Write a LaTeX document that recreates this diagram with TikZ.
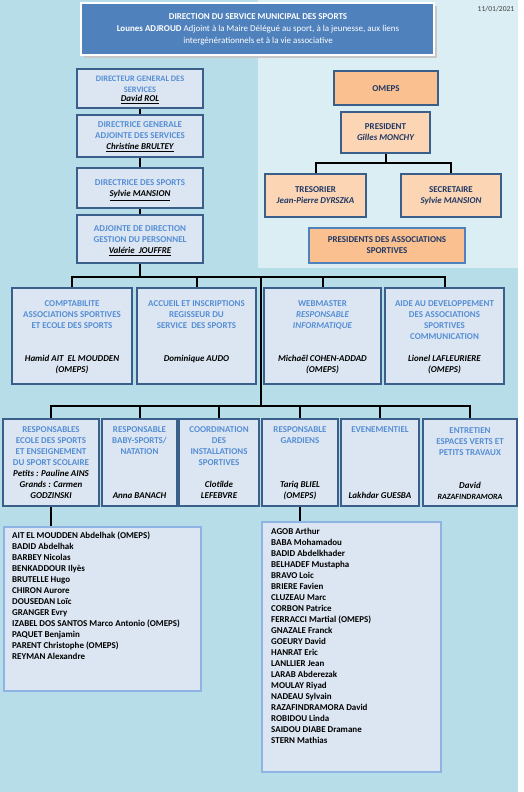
\documentclass[tikz,border=0pt]{standalone}
\usepackage{fontspec}
\setmainfont{Carlito}
\definecolor{bgblue}{HTML}{B7DDE8}
\definecolor{bglight}{HTML}{DBEEF4}
\definecolor{hdrblue}{HTML}{4F81BD}
\definecolor{boxfill}{HTML}{DCE6F2}
\definecolor{boxline}{HTML}{3A5F8B}
\definecolor{listline}{HTML}{8EB4E3}
\definecolor{titleblue}{HTML}{558ED5}
\definecolor{orange1}{HTML}{FAC090}
\definecolor{orange2}{HTML}{FCD5B5}
\definecolor{navy}{HTML}{1F3864}
\definecolor{dategray}{HTML}{404040}
\newcommand\lns[5]{\foreach \t [count=\i] in {#5}{\node[#2] (#1-\i) at (#3,{#4+(\i-1)*11}) {\t};}}
\tikzset{
  box/.style={draw=boxline, line width=1.8bp, fill=boxfill, inner sep=0pt},
  obox/.style={draw=boxline, line width=1.8bp, fill=orange1, inner sep=0pt},
  pbox/.style={draw=boxline, line width=1.8bp, fill=orange2, inner sep=0pt},
  pdabox/.style={draw=hdrblue, line width=2.2bp, fill=orange1, inner sep=0pt},
  lbox/.style={draw=listline, line width=1.3bp, fill=boxfill, inner sep=0pt},
  link/.style={line width=2bp, black},
  txt/.style={inner sep=0pt, text height=5.8bp, text depth=0pt, font=\fontsize{9}{11}\selectfont\bfseries},
  ttl/.style={txt, text=titleblue},
  ttls/.style={ttl, font=\fontsize{8.4}{11}\selectfont\bfseries},
  nm/.style={txt, font=\fontsize{9}{11}\selectfont\bfseries\itshape},
  nms/.style={txt, font=\fontsize{8}{11}\selectfont\bfseries\itshape},
  onm/.style={txt, text=navy},
  onmi/.style={nm, text=navy},
  lst/.style={txt, anchor=west},
  htxt/.style={txt, text=white},
}
\begin{document}
\begin{tikzpicture}[x=1bp, y=-1bp]
\useasboundingbox (0,0) rectangle (524,792);
\fill[bgblue] (0,0) rectangle (518,792);
\fill[bglight] (258,0) rectangle (518,268);

% header
\fill[black!22] (84,6) rectangle (437,58);
\node[draw=white, line width=2bp, fill=hdrblue, minimum width=353bp, minimum height=52bp, inner sep=0pt] (hdr) at (257.5,29) {};
\node[htxt] (h1) at (258,17) {DIRECTION DU SERVICE MUNICIPAL DES SPORTS};
\node[htxt] (h2) at (258,29) {Lounes ADJROUD \mdseries Adjoint à la Maire Délégué au sport, à la jeunesse, aux liens};
\node[htxt, font=\fontsize{9}{11}\selectfont] (h3) at (258,41) {intergénérationnels et à la vie associative};
\node[inner sep=0pt, text=dategray, font=\fontsize{7.6}{9}\selectfont] (date) at (496,9) {11/01/2021};

% left column
\node[box, minimum width=126bp, minimum height=39bp] (dg) at (140,88.5) {};
\node[box, minimum width=126bp, minimum height=42bp] (dga) at (140,136) {};
\node[box, minimum width=126bp, minimum height=40bp] (ds) at (140,188) {};
\node[box, minimum width=126bp, minimum height=48bp] (adj) at (140,239) {};
\lns{tdg}{ttls}{140}{79}{DIRECTEUR GENERAL DES,SERVICES}
\node[nm] (ndg) at (140,99) {\underline{David ROL}};
\lns{tdga}{ttl}{140}{125}{DIRECTRICE GENERALE,ADJOINTE DES SERVICES}
\node[nm] (ndga) at (140,147) {\underline{Christine BRULTEY}};
\node[ttl] (tds) at (140,183) {DIRECTRICE DES SPORTS};
\node[nm] (nds) at (140,194) {\underline{Sylvie MANSION}};
\lns{tadj}{ttl}{140}{229}{ADJOINTE DE DIRECTION,GESTION DU PERSONNEL}
\node[nm] (nadj) at (140,251) {\underline{Valérie~ JOUFFRE}};

% OMEPS
\node[obox, minimum width=104bp, minimum height=34bp] (omeps) at (386,88) {};
\node[onm] (tomeps) at (386,89) {OMEPS};
\node[pbox, minimum width=89bp, minimum height=41bp] (pres) at (385.5,132.5) {};
\node[onm] (tpres) at (385.5,127) {PRESIDENT};
\node[onmi] (npres) at (385.5,138) {Gilles MONCHY};
\node[pbox, minimum width=101bp, minimum height=43bp] (tres) at (315.5,195.5) {};
\node[onm] (ttres) at (315.5,190) {TRESORIER};
\node[onmi] (ntres) at (315.5,201) {Jean-Pierre DYRSZKA};
\node[pbox, minimum width=100bp, minimum height=43bp] (sec) at (451,195.5) {};
\node[onm] (tsec) at (451,190) {SECRETAIRE};
\node[onmi] (nsec) at (451,201) {Sylvie MANSION};
\node[pdabox, minimum width=156bp, minimum height=35bp] (pda) at (387,245.5) {};
\lns{tpda}{onm}{387}{240}{PRESIDENTS DES ASSOCIATIONS,SPORTIVES}

% row of four
\node[box, minimum width=120bp, minimum height=96bp] (c1) at (72,336) {};
\node[box, minimum width=119bp, minimum height=96bp] (c2) at (196.5,336) {};
\node[box, minimum width=117bp, minimum height=96bp] (c3) at (322.5,336) {};
\node[box, minimum width=119bp, minimum height=96bp] (c4) at (444.5,336) {};
\lns{tc1}{ttl}{72}{304}{COMPTABILITE,ASSOCIATIONS SPORTIVES,ET ECOLE DES SPORTS}
\lns{nc1}{nm}{72}{359}{Hamid AIT~ EL MOUDDEN,(OMEPS)}
\lns{tc2}{ttl}{196.5}{304}{ACCUEIL ET INSCRIPTIONS,REGISSEUR DU,SERVICE~ DES SPORTS}
\node[nm] (nc2) at (196.5,359) {Dominique AUDO};
\lns{tc3}{ttl}{322.5}{304}{WEBMASTER,{\itshape RESPONSABLE},{\itshape INFORMATIQUE}}
\lns{nc3}{nm}{322.5}{359}{Michaël COHEN-ADDAD,(OMEPS)}
\lns{tc4}{ttl}{444.5}{304}{AIDE AU DEVELOPPEMENT,DES ASSOCIATIONS,SPORTIVES,COMMUNICATION}
\lns{nc4}{nm}{444.5}{359}{Lionel LAFLEURIERE,(OMEPS)}

% row of six
\node[box, minimum width=96bp, minimum height=87bp] (r1) at (51,462.5) {};
\node[box, minimum width=75bp, minimum height=87bp] (r2) at (139.5,462.5) {};
\node[box, minimum width=80bp, minimum height=87bp] (r3) at (219,462.5) {};
\node[box, minimum width=76bp, minimum height=87bp] (r4) at (300,462.5) {};
\node[box, minimum width=78bp, minimum height=87bp] (r5) at (380,462.5) {};
\node[box, minimum width=94bp, minimum height=87bp] (r6) at (470,462.5) {};
\lns{tr1}{ttl}{51}{430}{RESPONSABLES,ECOLE DES SPORTS,ET ENSEIGNEMENT,DU SPORT SCOLAIRE}
\lns{nr1}{nm}{51}{474}{Petits : Pauline AINS,Grands : Carmen,GODZINSKI}
\lns{tr2}{ttl}{139.5}{430}{RESPONSABLE,BABY-SPORTS/,NATATION}
\node[nm] (nr2) at (139.5,496) {Anna BANACH};
\lns{tr3}{ttl}{219}{430}{COORDINATION,DES,INSTALLATIONS,SPORTIVES}
\lns{nr3}{nm}{219}{485}{Clotilde,LEFEBVRE}
\lns{tr4}{ttl}{300}{430}{RESPONSABLE,GARDIENS}
\lns{nr4}{nm}{300}{485}{Tariq BLIEL,(OMEPS)}
\node[ttl] (tr5) at (380,430) {EVENEMENTIEL};
\node[nm] (nr5) at (380,496) {Lakhdar GUESBA};
\lns{tr6}{ttl}{470}{431}{ENTRETIEN,ESPACES VERTS ET,PETITS TRAVAUX}
\node[nm] (nr6a) at (470,486) {David};
\node[nms] (nr6b) at (470,497) {RAZAFINDRAMORA};

% lists
\node[lbox, minimum width=197bp, minimum height=164bp] (l1) at (102.5,609) {};
\node[lbox, minimum width=179bp, minimum height=250bp] (l2) at (351.5,647) {};
\lns{ll1}{lst}{12}{536}{AIT EL MOUDDEN Abdelhak (OMEPS),BADID Abdelhak,BARBEY Nicolas,BENKADDOUR Ilyès,BRUTELLE Hugo,CHIRON Aurore,DOUSEDAN Loïc,GRANGER Evry,IZABEL DOS SANTOS Marco Antonio (OMEPS),PAQUET Benjamin,PARENT Christophe (OMEPS),REYMAN Alexandre}
\lns{ll2}{lst}{271}{532}{AGOB Arthur,BABA Mohamadou,BADID Abdelkhader,BELHADEF Mustapha,BRAVO Loic,BRIERE Favien,CLUZEAU Marc,CORBON Patrice,FERRACCI Martial (OMEPS),GNAZALE Franck,GOEURY David,HANRAT Eric,LANLLIER Jean,LARAB Abderezak,MOULAY Riyad,NADEAU Sylvain,RAZAFINDRAMORA David,ROBIDOU Linda,SAIDOU DIABE Dramane,STERN Mathias}

% connectors
\coordinate (j1) at (140,277);
\coordinate (j2) at (261,277);
\coordinate (j3) at (261,406);
\coordinate (jp) at (385.5,163);
\draw[link] (dg) -- (dga);
\draw[link] (dga) -- (ds);
\draw[link] (ds) -- (adj);
\draw[link] (adj.south) -- (j1);
\draw[link] (c1.north) |- (j1);
\draw[link] (c2.north) |- (j1);
\draw[link] (c3.north) |- (j1);
\draw[link] (c4.north) |- (j1);
\draw[link] (j2) -- (j3);
\foreach \r in {r1,r2,r3,r4,r5,r6} {\draw[link] (\r.north) |- (j3);}
\draw[link] (r1.south) -- (r1.south |- l1.north);
\draw[link] (r4.south) -- (r4.south |- l2.north);
\draw[link] (pres.south) -- (jp);
\draw[link] (tres.north) |- (jp);
\draw[link] (sec.north) |- (jp);
\end{tikzpicture}
\end{document}
